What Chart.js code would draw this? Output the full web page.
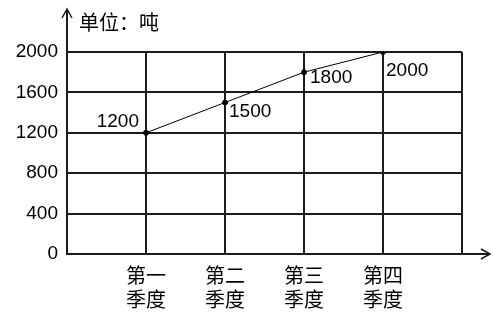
<!DOCTYPE html>
<html>
<head>
<meta charset="utf-8">
<script src="https://cdn.jsdelivr.net/npm/chart.js@4"></script>
<style>
  html, body { margin: 0; padding: 0; background: #fff; }
  #wrap { width: 493px; height: 318px; }
</style>
</head>
<body>
<div id="wrap"><canvas id="myChart" width="493" height="318"></canvas></div>
<script>
// data
var quarters = [["第一", "季度"], ["第二", "季度"], ["第三", "季度"], ["第四", "季度"]];
var tons = [1200, 1500, 1800, 2000];
var yTicks = [0, 400, 800, 1200, 1600, 2000];
var unitLabel = "单位：吨";

var ink = '#1c1c1c';
var numFont = '"Liberation Sans", Arial, sans-serif';
var cjkFont = '"Noto Sans CJK SC", sans-serif';

// label offsets relative to each point (dx, dy, align)
var labelPos = [
    { dx: -7, dy: -2, align: 'right', base: 'bottom' },
    { dx: 4, dy: 0, align: 'left', base: 'top' },
    { dx: 6, dy: -4, align: 'left', base: 'top' },
    { dx: 3, dy: 9, align: 'left', base: 'top' }
];

var extras = {
    id: 'extras',
    afterDraw: function(chart) {
        var c = chart.ctx;
        var a = chart.chartArea;
        var xs = chart.scales.x, ys = chart.scales.y;
        c.save();
        c.strokeStyle = ink;
        c.lineWidth = 2;
        // y axis extended up with arrow
        c.beginPath();
        c.moveTo(a.left, a.top);
        c.lineTo(a.left, 10);
        c.stroke();
        c.lineWidth = 1.5;
        c.beginPath();
        c.moveTo(a.left - 5, 18);
        c.lineTo(a.left, 9);
        c.lineTo(a.left + 5, 18);
        c.stroke();
        // x axis extended right with arrow
        c.lineWidth = 2;
        c.beginPath();
        c.moveTo(a.right, a.bottom);
        c.lineTo(489, a.bottom);
        c.stroke();
        c.lineWidth = 1.5;
        c.beginPath();
        c.moveTo(481, a.bottom - 5);
        c.lineTo(490, a.bottom);
        c.lineTo(481, a.bottom + 5);
        c.stroke();
        // unit label
        c.fillStyle = '#000';
        c.font = '20px ' + cjkFont;
        c.textAlign = 'left';
        c.textBaseline = 'middle';
        c.fillText(unitLabel, 79, 22);
        // value labels
        c.font = '19px ' + numFont;
        tons.forEach(function(v, i) {
            var px = xs.getPixelForValue(i + 1);
            var py = ys.getPixelForValue(v);
            var p = labelPos[i];
            c.textAlign = p.align;
            c.textBaseline = p.base;
            c.fillText(String(v), px + p.dx, py + p.dy);
        });
        c.restore();
    }
};

var ctx = document.getElementById('myChart').getContext('2d');
var myChart = new Chart(ctx, {
    type: 'line',
    data: {
        datasets: [{
            data: tons.map(function(v, i) { return { x: i + 1, y: v }; }),
            borderColor: '#000',
            borderWidth: 1,
            pointRadius: 2.5,
            pointBackgroundColor: '#000',
            pointBorderColor: '#000',
            tension: 0
        }]
    },
    options: {
        responsive: false,
        animation: false,
        layout: { padding: { top: 52, right: 31, left: 0, bottom: 0 } },
        plugins: { legend: { display: false }, tooltip: { enabled: false } },
        scales: {
            x: {
                type: 'linear',
                min: 0,
                max: quarters.length + 1,
                afterFit: function(s) { s.height = 64; },
                afterBuildTicks: function(s) {
                    s.ticks = [];
                    for (var i = 0; i <= quarters.length + 1; i++) s.ticks.push({ value: i });
                },
                ticks: {
                    color: '#000',
                    autoSkip: false,
                    maxRotation: 0,
                    padding: 9,
                    font: { family: cjkFont, size: 20, lineHeight: 1.2 },
                    callback: function(v) { return quarters[v - 1] || ''; }
                },
                grid: { color: ink, lineWidth: 2, drawTicks: false },
                border: { color: ink, width: 2 }
            },
            y: {
                min: 0,
                max: 2000,
                afterFit: function(s) { s.width = 67; },
                afterBuildTicks: function(s) {
                    s.ticks = yTicks.map(function(v) { return { value: v }; });
                },
                ticks: {
                    color: '#000',
                    padding: 9,
                    font: { family: numFont, size: 19 },
                    callback: function(v) { return String(v); }
                },
                grid: { color: ink, lineWidth: 2, drawTicks: false },
                border: { color: ink, width: 2 }
            }
        }
    },
    plugins: [extras]
});
</script>
</body>
</html>
